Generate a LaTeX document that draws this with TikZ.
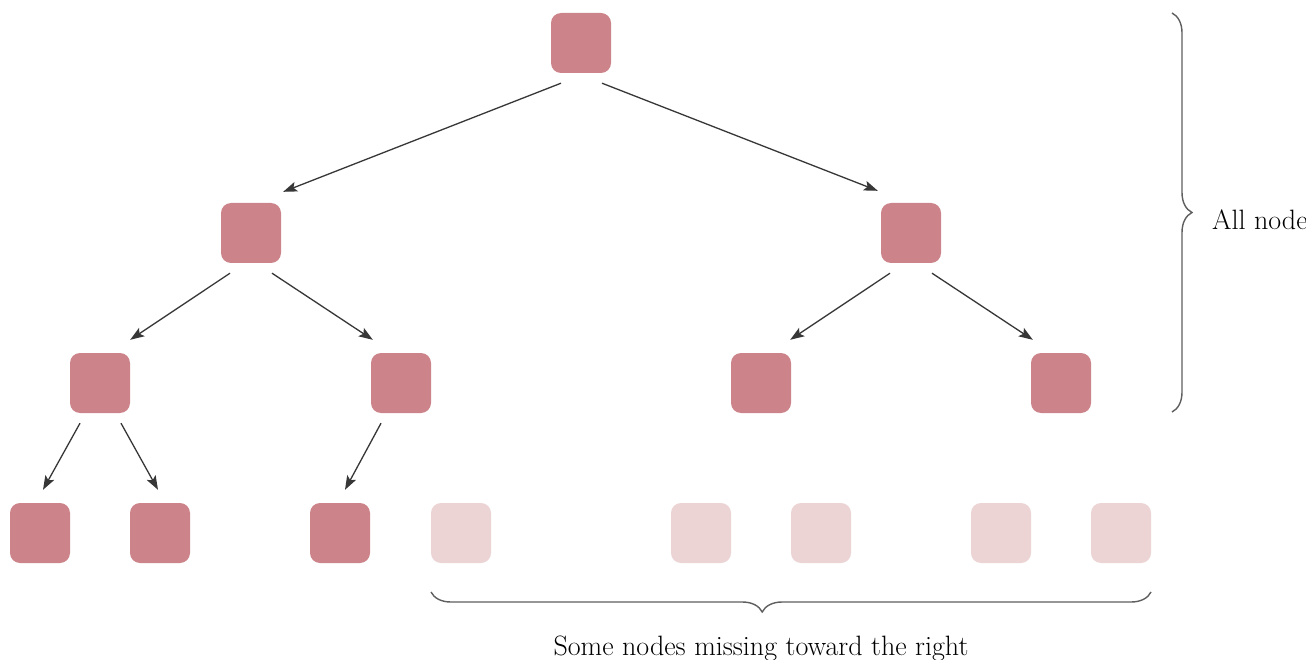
\documentclass[tikz,border=0pt]{standalone}
\usetikzlibrary{arrows.meta,calc,decorations.pathreplacing}
\definecolor{nodedark}{RGB}{204,132,138}
\definecolor{nodelight}{RGB}{236,212,212}
\definecolor{arrowgray}{RGB}{55,55,55}
\definecolor{bracegray}{RGB}{95,95,95}

\begin{document}
\begin{tikzpicture}[x=1pt, y=-1pt, >=Stealth,
    font=\fontsize{28}{32}\selectfont,
    every node/.style={inner sep=0pt},
    sq/.style={fill=nodedark, rounded corners=10pt, minimum size=60pt},
    ghost/.style={sq, fill=nodelight},
    arr/.style={-{Stealth[length=14pt,width=10pt,inset=3pt]}, line width=1.3pt, draw=arrowgray},
    brc/.style={decorate, decoration={brace,amplitude=20pt}, line width=1.4pt, draw=bracegray}]
  \clip (0,0) rectangle (1306,660);
  \fill[white] (0,0) rectangle (1306,660);
  % tree levels
  \node[sq] (r) at (581,43) {};
  \node[sq] (a) at (251,233) {};
  \node[sq] (b) at (911,233) {};
  \node[sq] (c) at (100,383) {};
  \node[sq] (d) at (401,383) {};
  \node[sq] (e) at (761,383) {};
  \node[sq] (f) at (1061,383) {};
  \node[sq] (g) at (40,533) {};
  \node[sq] (h) at (160,533) {};
  \node[sq] (i) at (340,533) {};
  \node[ghost] (j) at (461,533) {};
  \node[ghost] (k) at (701,533) {};
  \node[ghost] (l) at (821,533) {};
  \node[ghost] (m) at (1001,533) {};
  \node[ghost] (n) at (1121,533) {};
  % edges
  \draw[arr] ($(r.south)+(-20,10)$) -- ($(a.north east)+(2,-11)$);
  \draw[arr] ($(r.south)+(21,10)$) -- ($(b.north west)+(-3,-12)$);
  \draw[arr] ($(a.south)+(-21,10)$) -- ($(c.north east)+(0,-13)$);
  \draw[arr] ($(a.south)+(21,10)$) -- ($(d.north west)+(2,-13)$);
  \draw[arr] ($(b.south)+(-21,10)$) -- ($(e.north east)+(-1,-13)$);
  \draw[arr] ($(b.south)+(21,10)$) -- ($(f.north west)+(2,-13)$);
  \draw[arr] ($(c.south)+(-20,10)$) -- ($(g.north)+(3,-13)$);
  \draw[arr] ($(c.south)+(21,10)$) -- ($(h.north)+(-2,-13)$);
  \draw[arr] ($(d.south)+(-20,10)$) -- ($(i.north)+(5,-13)$);
  % braces
  \coordinate (bt) at (1172,13);
  \coordinate (bb) at (1172,412);
  \draw[brc] (bt) -- (bb);
  \node[anchor=base west] (all) at (1212,230) {All nodes};
  \coordinate (bl) at (431,592);
  \coordinate (br) at (1151,592);
  \draw[brc, decoration={mirror, aspect=0.46}] (bl) -- (br);
  \node[anchor=base] (miss) at (761,655) {Some nodes missing toward the right};
\end{tikzpicture}
\end{document}
